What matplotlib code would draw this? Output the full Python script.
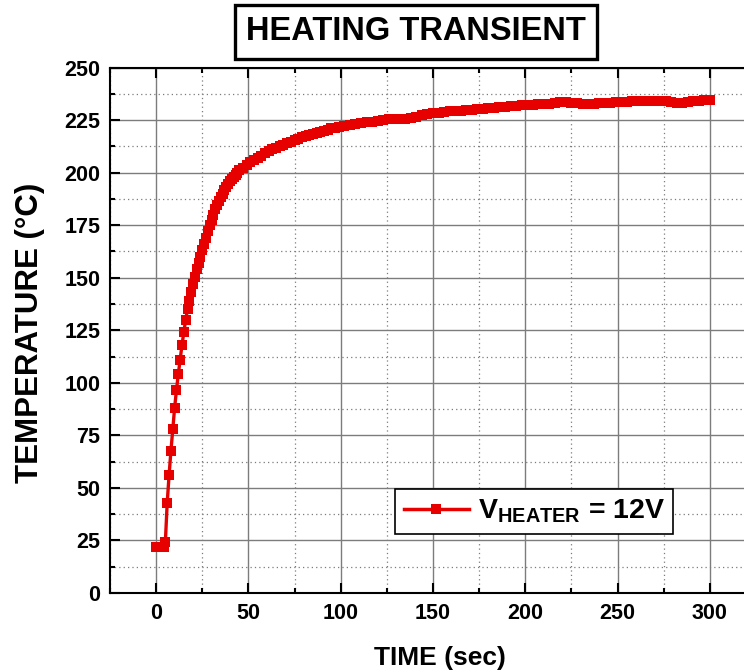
import matplotlib
matplotlib.use("Agg")
from matplotlib import pyplot as plt
from matplotlib.ticker import MultipleLocator

plt.rcParams['font.family'] = ['Liberation Sans', 'DejaVu Sans']
plt.rcParams['mathtext.fontset'] = 'custom'
plt.rcParams['mathtext.rm'] = 'Liberation Sans'
plt.rcParams['mathtext.bf'] = 'Liberation Sans:bold'

# heating transient
time_s = [0, 1, 2, 3, 4, 5, 6, 7, 8, 9, 10, 11, 12, 13, 14, 15, 16, 17, 18, 19, 20,
          21, 22, 23, 24, 25, 26, 27, 28, 29, 30, 31, 32, 33, 34, 35, 36, 37, 38, 39,
          40, 41, 42, 43, 44, 45,
          47, 49, 51, 53, 55, 57, 59, 61, 63, 65, 67, 69, 71, 73, 75, 77, 79, 81, 83,
          85, 87, 89, 91, 93, 95, 97, 99,
          102, 105, 108, 111, 114, 117, 120, 123, 126, 129, 132, 135, 138, 141, 144,
          147, 150, 153, 156, 159, 162, 165, 168, 171, 174, 177, 180, 183, 186, 189,
          192, 195, 198, 201, 204, 207, 210, 213, 216, 219, 222, 225, 228, 231, 234,
          237, 240, 243, 246, 249, 252, 255, 258, 261, 264, 267, 270, 273, 276, 279,
          282, 285, 288, 291, 294, 297, 300]
temp_c = [22, 22, 22, 22, 22, 24.5, 43, 56, 67.5, 78, 88, 96.5, 104, 111, 118, 124, 130,
          135, 139, 143, 147,
          150.5, 154, 157, 160, 163, 166, 169, 172, 175, 177.5, 180, 182.5, 184.5, 186.5,
          188.5, 190, 191.5, 193, 194.5, 196, 197, 198, 199, 200, 201,
          202, 203.5, 205, 206, 207, 208, 209.3, 210.2, 211, 211.8, 212.6, 213.3, 214,
          214.7, 215.4, 216.1, 216.8, 217.4, 218, 218.5, 219, 219.5, 220, 220.5, 221,
          221.3, 221.7,
          222.2, 222.7, 223.2, 223.6, 224, 224.3, 224.7, 225, 225.4, 225.5, 225.5, 225.6,
          225.8, 226.6, 227.3, 227.8, 228.3, 228.5, 228.8, 229.1, 229.3, 229.5, 229.8,
          230, 230.2, 230.4, 230.6, 230.8, 231, 231.2, 231.5, 231.8, 232.1, 232.3, 232.3,
          232.4, 232.5, 232.8, 233.1, 233.4, 233.4, 233.2, 233, 232.8, 232.7, 232.7,
          232.9, 233.1, 233.3, 233.4, 233.5, 233.7, 233.9, 234, 234.1, 234.1, 234.1,
          234.1, 234, 233.6, 233.2, 233.3, 233.6, 233.9, 234.2, 234.4, 234.5]

x_ticks = [0, 50, 100, 150, 200, 250, 300]
y_ticks = [0, 25, 50, 75, 100, 125, 150, 175, 200, 225, 250]

RED = '#E60000'
GRID = '#7c7c7c'

fig = plt.figure(figsize=(7.44, 6.72), dpi=100)
ax = fig.add_axes([110 / 744, 1 - 593 / 672, 646 / 744, 525.5 / 672])

ax.plot(time_s, temp_c, color=RED, lw=2.4, marker='s', markersize=7.5,
        markeredgewidth=0, label=r'$\mathbf{V}_{\mathbf{HEATER}}$ = 12V', zorder=3)

ax.set_xlim(-25, 325)
ax.set_ylim(0, 250)
ax.set_xticks(x_ticks)
ax.set_yticks(y_ticks)
ax.xaxis.set_minor_locator(MultipleLocator(25))
ax.yaxis.set_minor_locator(MultipleLocator(12.5))

ax.grid(which='major', color=GRID, lw=1.0, ls='-')
ax.grid(which='minor', color=GRID, lw=0.9, ls=(0, (1, 2.5)))
ax.set_axisbelow(True)

ax.tick_params(which='both', direction='in', top=True, width=1.5, colors='black',
               labelsize=15.5, pad=7)
ax.tick_params(which='major', length=7)
ax.tick_params(which='minor', length=3.5)
for lbl in ax.get_xticklabels() + ax.get_yticklabels():
    lbl.set_fontweight('bold')
for sp in ax.spines.values():
    sp.set_linewidth(1.5)

ax.set_xlabel('TIME (sec)', fontsize=19, fontweight='bold')
ax.set_ylabel('TEMPERATURE (\u00b0C)', fontsize=22.5, fontweight='bold')
ax.xaxis.set_label_coords(0.511, -0.1)
ax.yaxis.set_label_coords(-0.1, 0.495)

fig.text(416 / 744, 1 - 32 / 672, 'HEATING TRANSIENT', fontsize=23.5, fontweight='bold',
         ha='center', va='center',
         bbox=dict(boxstyle='square,pad=0.35', fc='white', ec='black', lw=2.4))

leg = ax.legend(loc='upper left', bbox_to_anchor=(395 / 744, 1 - 489 / 672),
                bbox_transform=fig.transFigure, borderaxespad=0, fancybox=False,
                framealpha=1, edgecolor='black', handlelength=2.3, handletextpad=0.3,
                borderpad=0.3, prop={'size': 20.5, 'weight': 'bold'})
leg.get_frame().set_linewidth(1.2)
for h in leg.legend_handles:
    h.set_markersize(7.5)
    h.set_linewidth(2.5)

fig.savefig('out.png', dpi=100)
